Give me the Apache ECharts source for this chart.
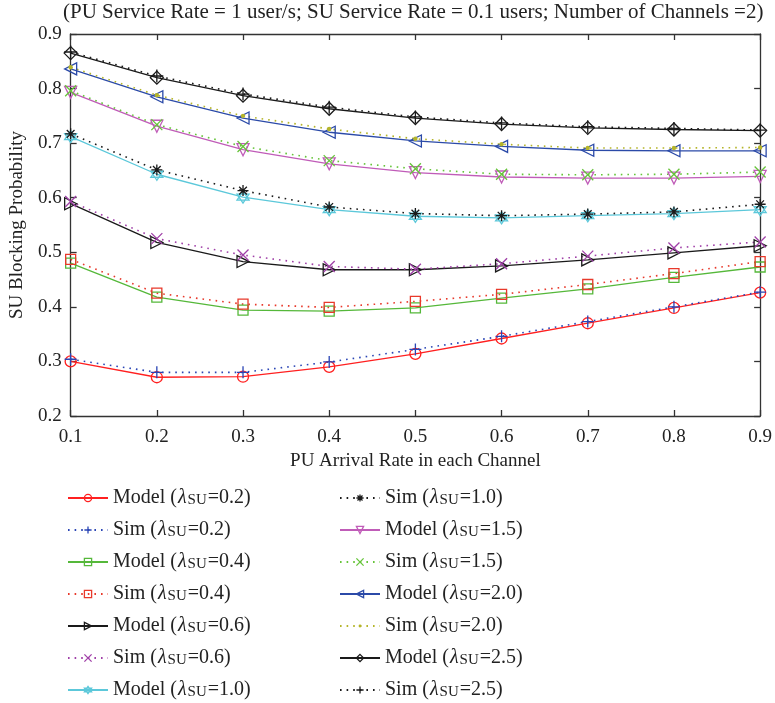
<!DOCTYPE html>
<html>
<head>
<meta charset="utf-8">
<script src="https://cdn.jsdelivr.net/npm/echarts@6/dist/echarts.min.js"></script>
<style>
  html, body { margin: 0; padding: 0; background: #fff; }
  #main { width: 775px; height: 703px; }
</style>
</head>
<body>
<div id="main"></div>
<script>
// PU arrival rate (x axis)
var puRate = [0.1, 0.2, 0.3, 0.4, 0.5, 0.6, 0.7, 0.8, 0.9];

// SU blocking probability
var modelSU02 = [0.300, 0.271, 0.272, 0.290, 0.314, 0.342, 0.370, 0.398, 0.426];
var simSU02   = [0.304, 0.280, 0.280, 0.299, 0.322, 0.346, 0.373, 0.400, 0.427];
var modelSU04 = [0.480, 0.418, 0.394, 0.392, 0.398, 0.416, 0.433, 0.454, 0.473];
var simSU04   = [0.487, 0.425, 0.405, 0.399, 0.410, 0.423, 0.441, 0.461, 0.483];
var modelSU06 = [0.589, 0.518, 0.483, 0.468, 0.468, 0.475, 0.486, 0.499, 0.512];
var simSU06   = [0.593, 0.525, 0.495, 0.474, 0.469, 0.479, 0.493, 0.508, 0.519];
var modelSU10 = [0.712, 0.643, 0.601, 0.578, 0.566, 0.563, 0.567, 0.571, 0.578];
var simSU10   = [0.717, 0.651, 0.613, 0.583, 0.571, 0.567, 0.570, 0.574, 0.588];
var modelSU15 = [0.793, 0.731, 0.688, 0.662, 0.646, 0.638, 0.636, 0.636, 0.639];
var simSU15   = [0.796, 0.734, 0.694, 0.668, 0.653, 0.643, 0.642, 0.643, 0.647];
var modelSU20 = [0.836, 0.785, 0.746, 0.720, 0.704, 0.694, 0.687, 0.686, 0.686];
var simSU20   = [0.839, 0.788, 0.750, 0.726, 0.708, 0.698, 0.691, 0.691, 0.692];
var modelSU25 = [0.865, 0.820, 0.787, 0.763, 0.746, 0.735, 0.728, 0.725, 0.723];
var simSU25   = [0.867, 0.823, 0.790, 0.766, 0.748, 0.737, 0.730, 0.727, 0.724];

var FONT = 'Liberation Serif';
var TXT = '#222';
var CLEAR = 'rgba(255,255,255,0)';

// marker shapes (matlab style)
var SYM = {
    plus: 'path://M0,5 L10,5 M5,0 L5,10',
    cross: 'path://M0,0 L10,10 M0,10 L10,0',
    star: 'path://M0,5 L10,5 M5,0 L5,10 M1.5,1.5 L8.5,8.5 M1.5,8.5 L8.5,1.5',
    triRight: 'path://M0,0 L10,5 L0,10 Z',
    triLeft: 'path://M10,0 L0,5 L10,10 Z',
    triDown: 'path://M0,0 L10,0 L5,9 Z',
    hexagram: 'path://M5,0 L9.33,7.5 L0.67,7.5 Z M5,10 L0.67,2.5 L9.33,2.5 Z',
    // small dot inside a 10x10 box (the two moveTo's keep the box size)
    dot: 'path://M0,0 M10,10 M3,5 A2,2 0 1 1 7,5 A2,2 0 1 1 3,5 Z'
};

function pairs(ys) {
    return ys.map(function (y, i) { return [puRate[i], y]; });
}

function mkSeries(name, ys, color, symbol, size, dotted, filled) {
    return {
        name: name,
        type: 'line',
        data: pairs(ys),
        symbol: symbol,
        symbolSize: size,
        showAllSymbol: true,
        lineStyle: {
            color: color,
            width: dotted ? 1.6 : 1.3,
            type: dotted ? [1.6, 5] : 'solid'
        },
        itemStyle: {
            color: filled ? color : CLEAR,
            borderColor: color,
            borderWidth: filled ? 0 : 1.3
        },
        emphasis: { disabled: true }
    };
}

var series = [
    mkSeries('Model (λSU=0.2)', modelSU02, '#ff2020', 'circle', 11, false, false),
    mkSeries('Sim (λSU=0.2)', simSU02, '#2a45b5', SYM.plus, 12, true, false),
    mkSeries('Model (λSU=0.4)', modelSU04, '#55b83a', 'rect', 10, false, false),
    mkSeries('Sim (λSU=0.4)', simSU04, '#e8392b', 'rect', 10, true, false),
    mkSeries('Model (λSU=0.6)', modelSU06, '#1a1a1a', SYM.triRight, 12, false, false),
    mkSeries('Sim (λSU=0.6)', simSU06, '#a040a8', SYM.cross, 11, true, false),
    mkSeries('Model (λSU=1.0)', modelSU10, '#5cc8da', SYM.hexagram, 12, false, false),
    mkSeries('Sim (λSU=1.0)', simSU10, '#1a1a1a', SYM.star, 11, true, false),
    mkSeries('Model (λSU=1.5)', modelSU15, '#c05cb8', SYM.triDown, 12, false, false),
    mkSeries('Sim (λSU=1.5)', simSU15, '#66c43a', SYM.cross, 11, true, false),
    mkSeries('Model (λSU=2.0)', modelSU20, '#2b4aa8', SYM.triLeft, 12, false, false),
    mkSeries('Sim (λSU=2.0)', simSU20, '#b5b52a', SYM.dot, 11, true, true),
    mkSeries('Model (λSU=2.5)', modelSU25, '#1a1a1a', 'diamond', 13, false, false),
    mkSeries('Sim (λSU=2.5)', simSU25, '#1a1a1a', SYM.plus, 13, true, false)
];

// legend entries carry their own marker style so hollow markers stay hollow
var legendItems = series.map(function (s) {
    return {
        name: s.name,
        itemStyle: {
            color: s.itemStyle.color,
            borderColor: s.itemStyle.borderColor,
            borderWidth: s.itemStyle.borderWidth
        }
    };
});

// "Model (λSU=0.2)" -> rich text with italic lambda and subscript SU
function legendFmt(name) {
    var parts = name.split('λSU');
    return '{t|' + parts[0] + '}{l|λ}{s|SU}{t|' + parts[1] + '}';
}

var legendText = {
    fontFamily: FONT,
    fontSize: 20,
    color: TXT,
    rich: {
        t: { fontFamily: FONT, fontSize: 20, color: TXT, lineHeight: 20, verticalAlign: 'top' },
        l: { fontFamily: FONT, fontSize: 20, fontStyle: 'italic', color: TXT, lineHeight: 20, verticalAlign: 'top', padding: [0, 1, 0, 1] },
        s: { fontFamily: FONT, fontSize: 15, color: TXT, lineHeight: 15, verticalAlign: 'bottom', padding: [8, 1, 0, 0] }
    }
};

function mkLegend(left, data) {
    return {
        orient: 'vertical',
        left: left,
        top: 485,
        height: 240,
        padding: 0,
        itemWidth: 40,
        itemHeight: 9,
        itemGap: 9,
        data: data,
        formatter: legendFmt,
        textStyle: legendText,
        selectedMode: false
    };
}

var axisLineStyle = { color: '#333', width: 1.3 };

var dom = document.getElementById('main');
var myChart = echarts.init(dom);
myChart.setOption({
    animation: false,
    title: {
        text: '(PU Service Rate = 1 user/s; SU Service Rate = 0.1 users; Number of Channels =2)',
        left: 63,
        top: 2,
        padding: 0,
        textStyle: { fontFamily: FONT, fontSize: 21, fontWeight: 'normal', color: TXT }
    },
    legend: [
        mkLegend(67, legendItems.slice(0, 7)),
        mkLegend(339, legendItems.slice(7))
    ],
    grid: { left: 65, right: 13, top: 34, bottom: 287 },
    xAxis: [
        {
            type: 'value',
            min: 0.1, max: 0.9, interval: 0.1,
            name: 'PU Arrival Rate in each Channel',
            nameLocation: 'middle',
            nameGap: 32,
            nameTextStyle: { fontFamily: FONT, fontSize: 19, color: TXT },
            axisLine: { lineStyle: axisLineStyle },
            axisTick: { inside: true, length: 6, lineStyle: axisLineStyle },
            axisLabel: { fontFamily: FONT, fontSize: 19, color: TXT, margin: 12 },
            splitLine: { show: false }
        },
        {
            type: 'value', position: 'top',
            min: 0.1, max: 0.9, interval: 0.1,
            axisLine: { lineStyle: axisLineStyle },
            axisTick: { inside: true, length: 6, lineStyle: axisLineStyle },
            axisLabel: { show: false },
            splitLine: { show: false }
        }
    ],
    yAxis: [
        {
            type: 'value',
            min: 0.2, max: 0.9, interval: 0.1,
            name: 'SU Blocking Probability',
            nameLocation: 'middle',
            nameGap: 28,
            nameTextStyle: { fontFamily: FONT, fontSize: 19, color: TXT },
            axisLine: { show: true, lineStyle: axisLineStyle },
            axisTick: { show: true, inside: true, length: 6, lineStyle: axisLineStyle },
            axisLabel: { fontFamily: FONT, fontSize: 19, color: TXT, margin: 9 },
            splitLine: { show: false }
        },
        {
            type: 'value', position: 'right',
            min: 0.2, max: 0.9, interval: 0.1,
            axisLine: { show: true, lineStyle: axisLineStyle },
            axisTick: { show: true, inside: true, length: 6, lineStyle: axisLineStyle },
            axisLabel: { show: false },
            splitLine: { show: false }
        }
    ],
    series: series
});
window.addEventListener('resize', function () {
    myChart.resize();
});
</script>
</body>
</html>
